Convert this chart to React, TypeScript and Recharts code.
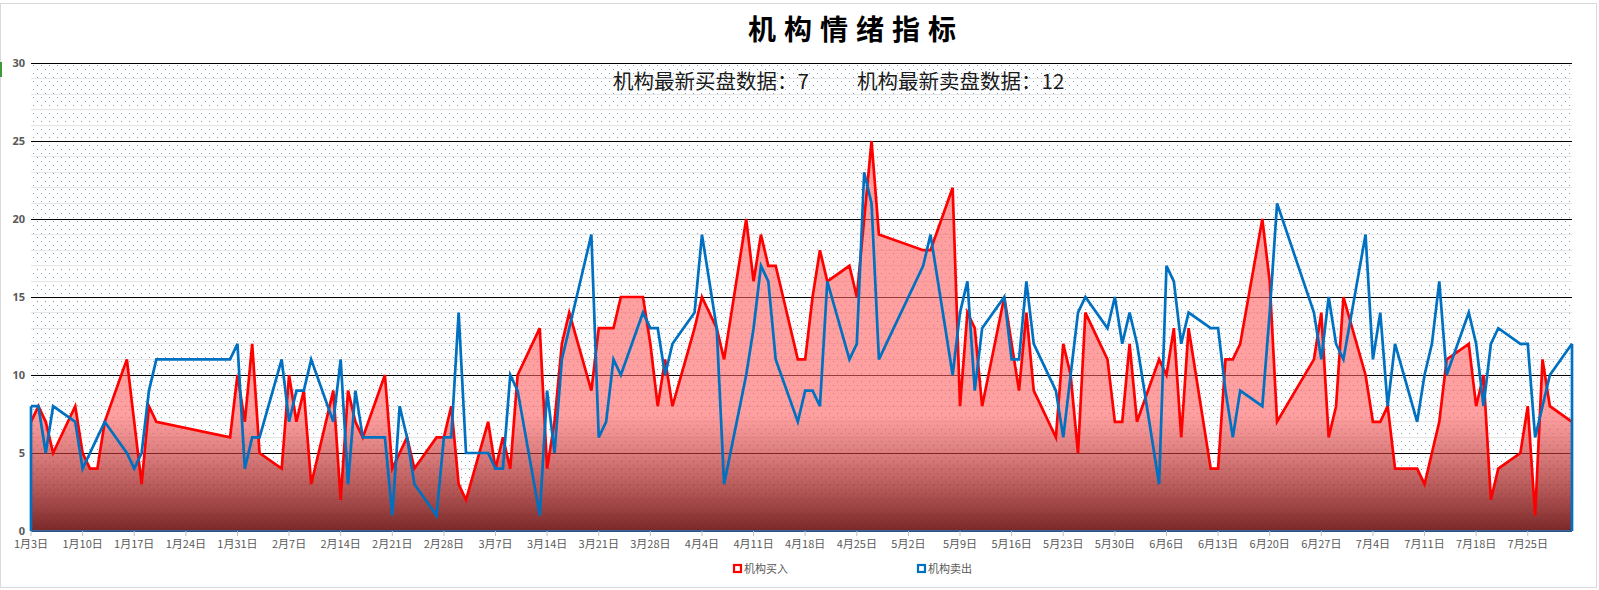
import React from 'react';
import { AreaChart, Area, XAxis, YAxis, CartesianGrid, ReferenceLine, Legend } from 'recharts';

const YEAR = 2023;

const tradeDates = [
  '1/3', '1/4', '1/5', '1/6', '1/9', '1/10', '1/11', '1/12', '1/13', '1/16', '1/17', '1/18', '1/19', '1/20', '1/30', '1/31',
  '2/1', '2/2', '2/3', '2/6', '2/7', '2/8', '2/9', '2/10', '2/13', '2/14', '2/15', '2/16', '2/17', '2/20', '2/21', '2/22', '2/23', '2/24', '2/27', '2/28',
  '3/1', '3/2', '3/3', '3/6', '3/7', '3/8', '3/9', '3/10', '3/13', '3/14', '3/15', '3/16', '3/17', '3/20', '3/21', '3/22', '3/23', '3/24', '3/27', '3/28', '3/29', '3/30', '3/31',
  '4/3', '4/4', '4/6', '4/7', '4/10', '4/11', '4/12', '4/13', '4/14', '4/17', '4/18', '4/19', '4/20', '4/21', '4/24', '4/25', '4/26', '4/27', '4/28',
  '5/4', '5/5', '5/8', '5/9', '5/10', '5/11', '5/12', '5/15', '5/16', '5/17', '5/18', '5/19', '5/22', '5/23', '5/24', '5/25', '5/26', '5/29', '5/30', '5/31',
  '6/1', '6/2', '6/5', '6/6', '6/7', '6/8', '6/9', '6/12', '6/13', '6/14', '6/15', '6/16', '6/19', '6/20', '6/21', '6/26', '6/27', '6/28', '6/29', '6/30',
  '7/3', '7/4', '7/5', '7/6', '7/7', '7/10', '7/11', '7/12', '7/13', '7/14', '7/17', '7/18', '7/19', '7/20', '7/21', '7/24', '7/25', '7/26', '7/27', '7/28', '7/31',
];

const buyCounts = [
  7, 8, 7, 5, 8, 5, 4, 4, 7, 11, 7, 3, 8, 7, 6, 10,
  7, 12, 5, 4, 10, 7, 9, 3, 9, 2, 9, 7, 6, 10, 4, 5, 6, 4, 6, 6,
  8, 3, 2, 7, 4, 6, 4, 10, 13, 4, 7, 12, 14, 9, 13, 13, 13, 15, 15, 12, 8, 11, 8,
  13, 15, 13, 11, 20, 16, 19, 17, 17, 11, 11, 15, 18, 16, 17, 15, 20, 25, 19,
  18, 18, 22, 8, 14, 13, 8, 15, 12, 9, 14, 9, 6, 12, 10, 5, 14, 11, 7, 7,
  12, 7, 11, 10, 13, 6, 13, 4, 4, 11, 11, 12, 20, 16, 7, 11, 14, 6, 8, 15,
  10, 7, 7, 8, 4, 4, 3, 5, 7, 11, 12, 8, 10, 2, 4, 5, 8, 1, 11, 8, 7,
];

const sellCounts = [
  8, 8, 5, 8, 7, 4, 5, 6, 7, 5, 4, 5, 9, 11, 11, 12,
  4, 6, 6, 11, 7, 9, 9, 11, 7, 11, 3, 9, 6, 6, 1, 8, 6, 3, 1, 6,
  6, 14, 5, 5, 4, 4, 10, 9, 1, 9, 5, 11, 13, 19, 6, 7, 11, 10, 14, 13, 13, 10, 12,
  14, 19, 13, 3, 10, 13, 17, 16, 11, 7, 9, 9, 8, 16, 11, 12, 23, 21, 11,
  17, 19, 10, 14, 16, 9, 13, 15, 11, 11, 16, 12, 9, 6, 10, 14, 15, 13, 15, 12,
  14, 12, 3, 17, 16, 12, 14, 13, 13, 9, 6, 9, 8, 14, 21, 14, 11, 15, 12, 11,
  19, 11, 14, 8, 12, 7, 10, 12, 16, 10, 14, 12, 8, 12, 13, 12, 12, 6, 8, 10, 12,
];

const xTickDates = [
  '1/3', '1/10', '1/17', '1/24', '1/31', '2/7', '2/14', '2/21', '2/28', '3/7', '3/14', '3/21', '3/28', '4/4', '4/11',
  '4/18', '4/25', '5/2', '5/9', '5/16', '5/23', '5/30', '6/6', '6/13', '6/20', '6/27', '7/4', '7/11', '7/18', '7/25',
];
const xTickLabels = [
  '1月3日', '1月10日', '1月17日', '1月24日', '1月31日', '2月7日', '2月14日', '2月21日', '2月28日', '3月7日', '3月14日', '3月21日', '3月28日', '4月4日', '4月11日',
  '4月18日', '4月25日', '5月2日', '5月9日', '5月16日', '5月23日', '5月30日', '6月6日', '6月13日', '6月20日', '6月27日', '7月4日', '7月11日', '7月18日', '7月25日',
];
const yTicks = [0, 5, 10, 15, 20, 25, 30];
const yMinorLines = [1, 2, 3, 4, 6, 7, 8, 9, 11, 12, 13, 14, 16, 17, 18, 19, 21, 22, 23, 24, 26, 27, 28, 29];
const seriesNames = ['机构买入', '机构卖出'];
const seriesColors = ['#FF0000', '#0070C0'];
const chartTitle = '机构情绪指标';
const buyLabel = '机构最新买盘数据：';
const sellLabel = '机构最新卖盘数据：';

const BASE = Date.UTC(YEAR, 0, 3);
const dayOf = (md: string) => {
  const [m, d] = md.split('/').map(Number);
  return Math.round((Date.UTC(YEAR, m - 1, d) - BASE) / 86400000);
};

const data = tradeDates.map((md, i) => ({ day: dayOf(md), buy: buyCounts[i], sell: sellCounts[i] }));
const xTicks = xTickDates.map(dayOf);
const labelFor = (v: number) => {
  const i = xTicks.indexOf(v);
  return i >= 0 ? xTickLabels[i] : '';
};
const first = data[0];
const last = data[data.length - 1];

const CJK = '"Noto Sans CJK SC", "Noto Sans", sans-serif';

const renderLegend = () => {
  const xs = [733, 917];
  return (
    <svg width={1599} height={24} style={{ display: 'block' }}>
      {seriesNames.map((name, i) => (
        <g key={name}>
          <rect x={xs[i] + 1} y={9} width={7} height={7} fill="#ffffff" stroke={seriesColors[i]} strokeWidth={2.2} />
          <text x={xs[i] + 11} y={16.8} fontSize={11} fill="#595959" fontFamily={CJK}>
            {name}
          </text>
        </g>
      ))}
    </svg>
  );
};

export default function App() {
  return (
    <div style={{ position: 'relative', width: 1599, height: 590, background: '#ffffff', overflow: 'hidden' }}>
      <style>{'html,body{margin:0;padding:0;overflow:hidden;background:#fff;}'}</style>
      <div
        style={{
          position: 'absolute',
          left: 0,
          top: 3,
          width: 1597,
          height: 585,
          border: '1px solid #D9D9D9',
          boxSizing: 'border-box',
        }}
      />
      <div style={{ position: 'absolute', left: 0, top: 62, width: 2, height: 15, background: '#3C9A3C' }} />
      <div style={{ position: 'absolute', left: 0, top: 0 }}>
        <AreaChart width={1599} height={590} data={data} margin={{ top: 63, right: 27, bottom: 28, left: 0 }}>
          <defs>
            <pattern id="dotPattern" x={0} y={0} width={8} height={8} patternUnits="userSpaceOnUse">
              <rect x={0} y={0} width={8} height={8} fill="#ffffff" />
              <rect x={1} y={1} width={1} height={1} fill="#7A9CC6" />
              <rect x={5} y={5} width={1} height={1} fill="#7A9CC6" />
            </pattern>
            <linearGradient id="buyFill" x1="0" y1="0" x2="0" y2="1">
              <stop offset="0" stopColor="#FF6060" stopOpacity={0.6} />
              <stop offset="0.7" stopColor="#FF6060" stopOpacity={0.6} />
              <stop offset="0.8" stopColor="#C93737" stopOpacity={0.65} />
              <stop offset="1" stopColor="#6E1515" stopOpacity={0.92} />
            </linearGradient>
          </defs>
          <CartesianGrid
            vertical={false}
            horizontalValues={yMinorLines}
            stroke="#E6E6E6"
            fill="url(#dotPattern)"
            fillOpacity={1}
            shapeRendering="crispEdges"
          />
          <CartesianGrid vertical={false} stroke="#000000" strokeWidth={1} shapeRendering="crispEdges" />
          <XAxis
            type="number"
            dataKey="day"
            domain={[first.day, last.day]}
            ticks={xTicks}
            interval={0}
            tickFormatter={labelFor}
            height={31}
            tickSize={5}
            tickMargin={4}
            tick={{ fontSize: 11, fill: '#595959', fontFamily: CJK }}
            tickLine={{ stroke: '#BFBFBF' }}
            axisLine={{ stroke: '#2E75B6', strokeWidth: 1.5 }}
          />
          <YAxis
            type="number"
            domain={[0, 30]}
            ticks={yTicks}
            interval={0}
            width={31}
            tickSize={0}
            tickMargin={6}
            axisLine={false}
            tickLine={false}
            tick={{ fontSize: 11, fill: '#595959', fontWeight: 700, fontFamily: '"Noto Sans", sans-serif' }}
          />
          <Area
            type="linear"
            dataKey="buy"
            name={seriesNames[0]}
            stroke={seriesColors[0]}
            strokeWidth={2.7}
            fill="url(#buyFill)"
            fillOpacity={1}
            dot={false}
            activeDot={false}
            isAnimationActive={false}
          />
          <Area
            type="linear"
            dataKey="sell"
            name={seriesNames[1]}
            stroke={seriesColors[1]}
            strokeWidth={2.7}
            fill="none"
            dot={false}
            activeDot={false}
            isAnimationActive={false}
          />
          <ReferenceLine
            segment={[{ x: first.day, y: 0 }, { x: first.day, y: first.sell }]}
            stroke={seriesColors[1]}
            strokeWidth={2.7}
          />
          <ReferenceLine
            segment={[{ x: last.day, y: 0 }, { x: last.day, y: last.sell }]}
            stroke={seriesColors[1]}
            strokeWidth={2.7}
          />
          <Legend
            verticalAlign="middle"
            align="center"
            layout="horizontal"
            wrapperStyle={{ left: 0, top: 556, width: 1599, height: 24 }}
            content={renderLegend}
          />
        </AreaChart>
      </div>
      <svg
        width={1599}
        height={120}
        style={{ position: 'absolute', left: 0, top: 0, pointerEvents: 'none' }}
      >
        <text x={748} y={40} fontSize={28} fontWeight={700} letterSpacing={8} fill="#000000" fontFamily={CJK}>
          {chartTitle}
        </text>
        <text x={613} y={89} fontSize={20.5} fill="#1A1A1A" fontFamily={CJK}>
          {buyLabel + buyCounts[buyCounts.length - 1]}
        </text>
        <text x={857} y={89} fontSize={20.5} fill="#1A1A1A" fontFamily={CJK}>
          {sellLabel + sellCounts[sellCounts.length - 1]}
        </text>
      </svg>
    </div>
  );
}
